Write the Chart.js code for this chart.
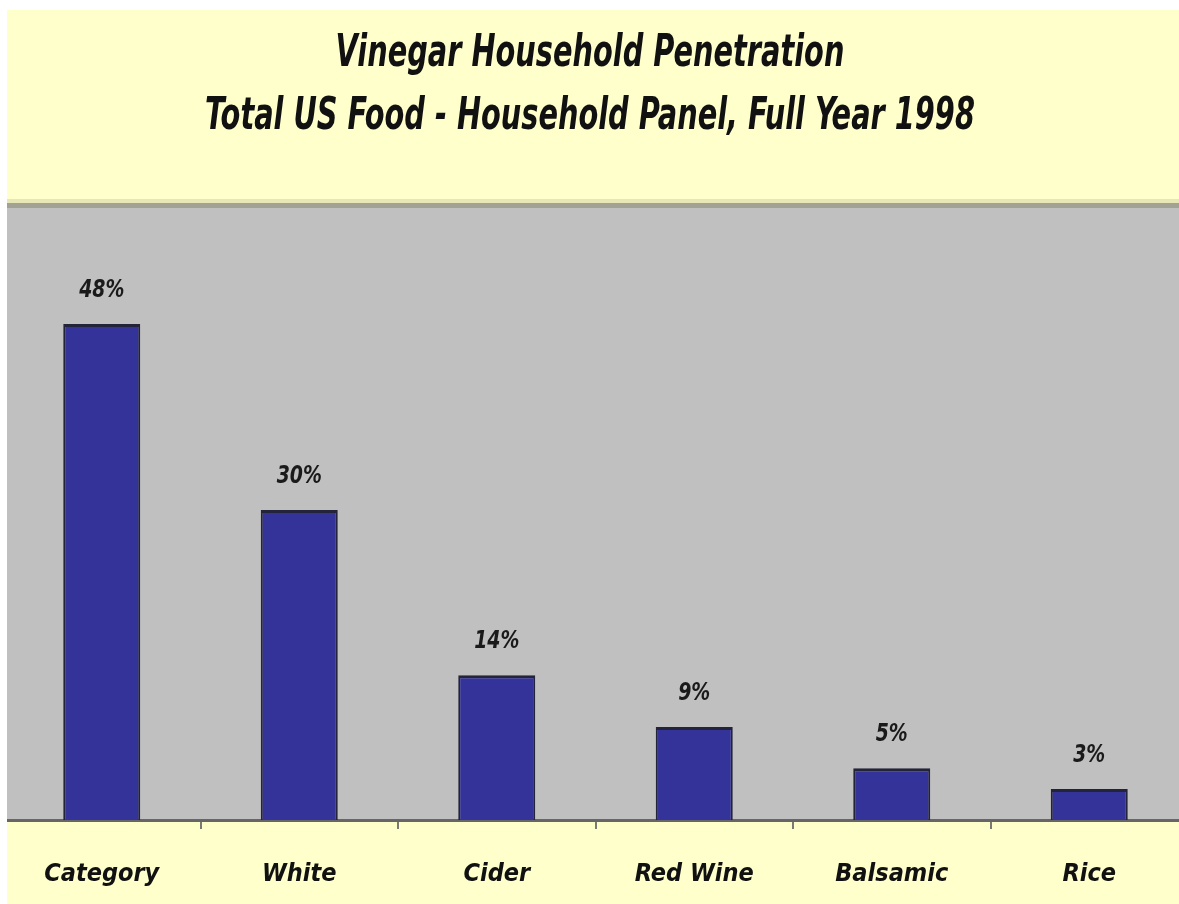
<!DOCTYPE html>
<html lang="en">
<head>
<meta charset="UTF-8" />
<title>Vinegar Household Penetration</title>
<script src="https://cdn.jsdelivr.net/npm/chart.js"></script>
<style>
    body {
        margin: 0;
        background: #fff;
        overflow: hidden;
    }
    #frame {
        position: absolute;
        left: 7px;
        top: 10px;
        width: 1172px;
        height: 894px;
        overflow: hidden;
        background: #ffffcc;
    }
    #box {
        position: relative;
        left: -4px;
        top: -10px;
        width: 1186px;
        height: 904px;
    }
</style>
</head>
<body>
<div id="frame"><div id="box"><canvas id="vinegarChart"></canvas></div></div>
<script>
const categories = ['Category', 'White', 'Cider', 'Red Wine', 'Balsamic', 'Rice'];
const penetration = [48, 30, 14, 9, 5, 3];
const titleLines = ['Vinegar Household Penetration', 'Total US Food - Household Panel, Full Year 1998'];

const NARROW = '"Liberation Sans Narrow", "Arial Narrow", "DejaVu Sans Condensed", sans-serif';

// gray plot panel with the darker band on top
const panelBg = {
    id: 'panelBg',
    beforeDraw(chart) {
        const { ctx, chartArea: a } = chart;
        ctx.save();
        ctx.fillStyle = '#c0c0c0';
        ctx.fillRect(a.left - 10, a.top, a.right - a.left + 20, a.bottom - a.top);
        ctx.fillStyle = '#e6e6b6';
        ctx.fillRect(a.left - 10, a.top - 1, a.right - a.left + 20, 4);
        ctx.fillStyle = '#a2a294';
        ctx.fillRect(a.left - 10, a.top + 3, a.right - a.left + 20, 5);
        ctx.restore();
    }
};

// two-line title, stretched vertically like the original
const bigTitle = {
    id: 'bigTitle',
    afterDraw(chart) {
        const ctx = chart.ctx;
        const cx = chart.width / 2 - 6;
        ctx.save();
        ctx.fillStyle = '#111';
        ctx.textAlign = 'center';
        ctx.textBaseline = 'middle';
        ctx.font = 'italic bold 32px ' + NARROW;
        [54, 117].forEach((y, i) => {
            ctx.save();
            ctx.translate(cx, y);
            ctx.scale(1, 1.4);
            ctx.fillText(titleLines[i], 0, 0);
            ctx.restore();
        });
        ctx.restore();
    }
};

// percent labels above bars
const barLabels = {
    id: 'barLabels',
    afterDatasetsDraw(chart) {
        const ctx = chart.ctx;
        const meta = chart.getDatasetMeta(0);
        ctx.save();
        ctx.fillStyle = '#1a1a1a';
        ctx.textAlign = 'center';
        ctx.textBaseline = 'middle';
        ctx.font = 'italic bold 21px ' + NARROW;
        meta.data.forEach((bar, i) => {
            ctx.save();
            ctx.translate(bar.x, bar.y - 34);
            ctx.scale(1, 1.2);
            ctx.fillText(penetration[i] + '%', 0, 0);
            ctx.restore();
        });
        ctx.restore();
    }
};

new Chart(document.getElementById('vinegarChart'), {
    type: 'bar',
    data: {
        labels: categories,
        datasets: [{
            data: penetration,
            backgroundColor: '#333399',
            borderColor: '#23233a',
            borderWidth: { top: 3, left: 2, right: 2, bottom: 0 },
            borderSkipped: 'bottom',
            barPercentage: 0.39,
            categoryPercentage: 1
        }]
    },
    options: {
        responsive: true,
        maintainAspectRatio: false,
        animation: false,
        layout: { padding: { top: 200, left: 0, right: 1, bottom: 0 } },
        plugins: {
            legend: { display: false },
            title: { display: false },
            tooltip: { enabled: false }
        },
        scales: {
            x: {
                offset: true,
                afterFit(scale) { scale.height = 84; },
                border: { display: true, color: '#666666', width: 3 },
                grid: {
                    offset: true,
                    drawOnChartArea: false,
                    drawTicks: true,
                    tickLength: 9,
                    color: '#7a7a70',
                    lineWidth: 2
                },
                ticks: {
                    color: '#111',
                    padding: 30,
                    font: { family: NARROW, size: 25, style: 'italic', weight: 'bold' }
                }
            },
            y: {
                display: false,
                min: 0,
                max: 60
            }
        }
    },
    plugins: [panelBg, bigTitle, barLabels]
});
</script>
</body>
</html>
